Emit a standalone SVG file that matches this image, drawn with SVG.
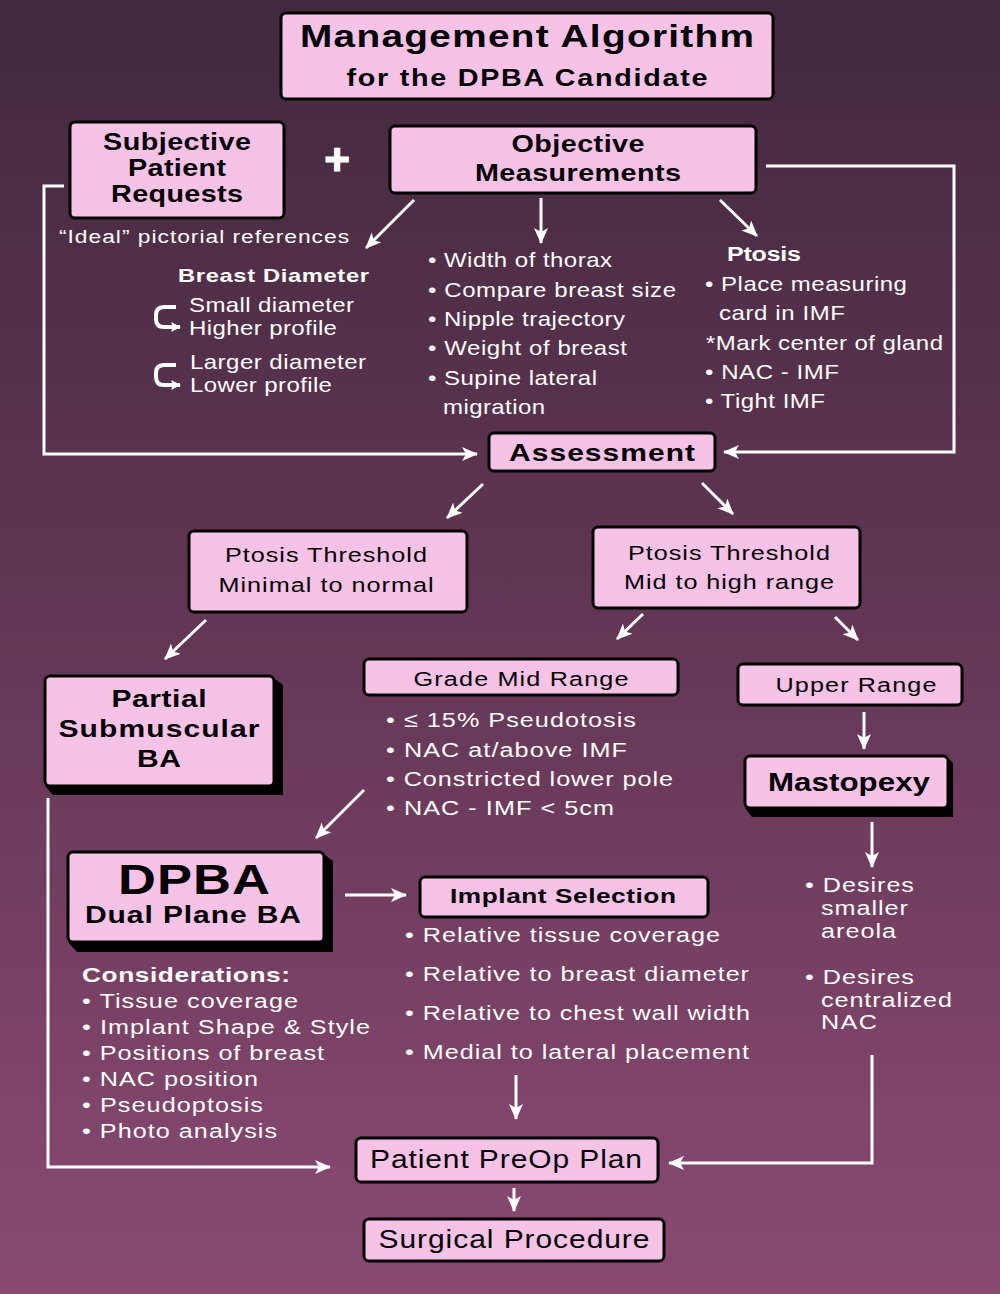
<svg xmlns="http://www.w3.org/2000/svg" width="1000" height="1294" viewBox="0 0 1000 1294">
<defs>
<linearGradient id="bg" x1="0" y1="0" x2="0" y2="1">
<stop offset="0" stop-color="#42293d"/>
<stop offset="0.5" stop-color="#643755"/>
<stop offset="1" stop-color="#8a4a72"/>
</linearGradient>
<marker id="ah" markerUnits="userSpaceOnUse" markerWidth="18" markerHeight="16" refX="15" refY="7" orient="auto">
<path d="M0,0 L16,7 L0,14 L4,7 z" fill="#fff"/>
</marker>
<marker id="ahs" markerUnits="userSpaceOnUse" markerWidth="12" markerHeight="12" refX="9" refY="5" orient="auto">
<path d="M0,0 L10,5 L0,10 L2,5 z" fill="#fff"/>
</marker>
<style>
.box{fill:#f6c3e6;stroke:#000;stroke-width:3}
.sh{fill:#000}
.b{font-family:"Liberation Sans",Arial,sans-serif;font-weight:bold;fill:#000}
.r{font-family:"Liberation Sans",Arial,sans-serif;fill:#000}
.wb{font-family:"Liberation Sans",Arial,sans-serif;font-weight:bold;fill:#fff}
.w{font-family:"Liberation Sans",Arial,sans-serif;fill:#fff}
.c{text-anchor:middle}
.ln{fill:none;stroke:#fff;stroke-width:3}
.ar{marker-end:url(#ah)}
</style>
</defs>
<rect x="0" y="0" width="1000" height="1294" fill="url(#bg)"/>

<g id="connectors">
<line class="ln ar" x1="414" y1="200" x2="366" y2="248"/>
<line class="ln ar" x1="541" y1="198" x2="541" y2="243"/>
<line class="ln ar" x1="720" y1="200" x2="757" y2="236"/>
<polyline class="ln ar" points="64,186 44,186 44,454 477,454"/>
<polyline class="ln ar" points="766,166 954,166 954,452 724,452"/>
<line class="ln ar" x1="483" y1="484" x2="447" y2="518"/>
<line class="ln ar" x1="702" y1="483" x2="733" y2="514"/>
<line class="ln ar" x1="206" y1="620" x2="165" y2="659"/>
<line class="ln ar" x1="643" y1="614" x2="617" y2="639"/>
<line class="ln ar" x1="835" y1="617" x2="858" y2="640"/>
<line class="ln ar" x1="864" y1="712" x2="864" y2="749"/>
<line class="ln ar" x1="872" y1="822" x2="872" y2="867"/>
<line class="ln ar" x1="364" y1="790" x2="316" y2="838"/>
<line class="ln ar" x1="345" y1="895" x2="406" y2="895"/>
<line class="ln ar" x1="516" y1="1075" x2="516" y2="1119"/>
<polyline class="ln ar" points="48,798 48,1167 330,1167"/>
<polyline class="ln ar" points="872,1055 872,1163 669,1163"/>
<line class="ln ar" x1="514" y1="1188" x2="514" y2="1211"/>
<path class="ln" style="stroke-width:4;marker-end:url(#ahs)" d="M176,307 H164 Q156,307 156,315 V319 Q156,327 164,327 H180"/>
<path class="ln" style="stroke-width:4;marker-end:url(#ahs)" d="M176,365 H164 Q156,365 156,373 V377 Q156,385 164,385 H180"/>
</g>

<g id="title">
<rect class="box" x="281" y="13" width="492" height="86" rx="5"/>
<text class="b c" transform="matrix(1.25 0 0 1 527 47)" font-size="31" textLength="363.2" lengthAdjust="spacing">Management Algorithm</text>
<text class="b c" transform="matrix(1.25 0 0 1 527 86)" font-size="23" textLength="288.8" lengthAdjust="spacing">for the DPBA Candidate</text>
</g>

<g id="subjective">
<rect class="box" x="70" y="122" width="214" height="96" rx="5"/>
<text class="b c" transform="matrix(1.25 0 0 1 177 150)" font-size="23" textLength="118.4" lengthAdjust="spacing">Subjective</text>
<text class="b c" transform="matrix(1.25 0 0 1 177 176)" font-size="23" textLength="78.4" lengthAdjust="spacing">Patient</text>
<text class="b c" transform="matrix(1.25 0 0 1 177 202)" font-size="23" textLength="105.6" lengthAdjust="spacing">Requests</text>
</g>

<g id="plus">
<text class="wb c" x="337" y="175" font-size="44" style="stroke:#fff;stroke-width:1.2">+</text>
</g>

<g id="objective">
<rect class="box" x="390" y="126" width="366" height="67" rx="5"/>
<text class="b c" transform="matrix(1.25 0 0 1 578 152)" font-size="23" textLength="106.4" lengthAdjust="spacing">Objective</text>
<text class="b c" transform="matrix(1.25 0 0 1 578 181)" font-size="23" textLength="164.8" lengthAdjust="spacing">Measurements</text>
</g>

<g id="subjective-notes">
<text class="w" transform="matrix(1.2 0 0 1 59 243)" font-size="19" textLength="241.7" lengthAdjust="spacing">“Ideal” pictorial references</text>
<text class="wb" transform="matrix(1.25 0 0 1 178 282)" font-size="19" textLength="152.8" lengthAdjust="spacing">Breast Diameter</text>
<text class="w" transform="matrix(1.2 0 0 1 189 312)" font-size="20" textLength="137.5" lengthAdjust="spacing">Small diameter</text>
<text class="w" transform="matrix(1.2 0 0 1 189 335)" font-size="20" textLength="123.3" lengthAdjust="spacing">Higher profile</text>
<text class="w" transform="matrix(1.2 0 0 1 190 369)" font-size="20" textLength="146.7" lengthAdjust="spacing">Larger diameter</text>
<text class="w" transform="matrix(1.2 0 0 1 190 392)" font-size="20" textLength="118.3" lengthAdjust="spacing">Lower profile</text>
</g>

<g id="objective-notes">
<text class="w" transform="matrix(1.2 0 0 1 428 267)" font-size="20" textLength="153.3" lengthAdjust="spacing">• Width of thorax</text>
<text class="w" transform="matrix(1.2 0 0 1 428 297)" font-size="20" textLength="206.7" lengthAdjust="spacing">• Compare breast size</text>
<text class="w" transform="matrix(1.2 0 0 1 428 326)" font-size="20" textLength="164.2" lengthAdjust="spacing">• Nipple trajectory</text>
<text class="w" transform="matrix(1.2 0 0 1 428 355)" font-size="20" textLength="165.8" lengthAdjust="spacing">• Weight of breast</text>
<text class="w" transform="matrix(1.2 0 0 1 428 385)" font-size="20" textLength="140.8" lengthAdjust="spacing">• Supine lateral</text>
<text class="w" transform="matrix(1.2 0 0 1 443 414)" font-size="20" textLength="85" lengthAdjust="spacing">migration</text>
</g>

<g id="ptosis-notes">
<text class="wb" transform="matrix(1.25 0 0 1 727 261)" font-size="20" textLength="59.2" lengthAdjust="spacing">Ptosis</text>
<text class="w" transform="matrix(1.2 0 0 1 705 291)" font-size="20" textLength="168.3" lengthAdjust="spacing">• Place measuring</text>
<text class="w" transform="matrix(1.2 0 0 1 719 320)" font-size="20" textLength="105" lengthAdjust="spacing">card in IMF</text>
<text class="w" transform="matrix(1.2 0 0 1 706 350)" font-size="20" textLength="197.5" lengthAdjust="spacing">*Mark center of gland</text>
<text class="w" transform="matrix(1.2 0 0 1 705 379)" font-size="20" textLength="111.7" lengthAdjust="spacing">• NAC - IMF</text>
<text class="w" transform="matrix(1.2 0 0 1 705 408)" font-size="20" textLength="100" lengthAdjust="spacing">• Tight IMF</text>
</g>

<g id="assessment">
<rect class="box" x="489" y="433" width="226" height="38" rx="5"/>
<text class="b c" transform="matrix(1.25 0 0 1 602 461)" font-size="24" textLength="148.8" lengthAdjust="spacing">Assessment</text>
</g>

<g id="ptosis-low">
<rect class="box" x="189" y="531" width="278" height="81" rx="5"/>
<text class="r c" transform="matrix(1.2 0 0 1 326 562)" font-size="21" textLength="168.3" lengthAdjust="spacing">Ptosis Threshold</text>
<text class="r c" transform="matrix(1.2 0 0 1 326 592)" font-size="21" textLength="179.2" lengthAdjust="spacing">Minimal to normal</text>
</g>

<g id="ptosis-high">
<rect class="box" x="593" y="527" width="267" height="81" rx="5"/>
<text class="r c" transform="matrix(1.2 0 0 1 729 560)" font-size="21" textLength="168.3" lengthAdjust="spacing">Ptosis Threshold</text>
<text class="r c" transform="matrix(1.2 0 0 1 729 589)" font-size="21" textLength="175" lengthAdjust="spacing">Mid to high range</text>
</g>

<g id="partial">
<polygon class="sh" points="271,676 283,685 283,795 53,795 45,786"/>
<rect class="box" x="45" y="676" width="229" height="110" rx="5"/>
<text class="b c" transform="matrix(1.25 0 0 1 159 707)" font-size="24" textLength="76" lengthAdjust="spacing">Partial</text>
<text class="b c" transform="matrix(1.25 0 0 1 159 737)" font-size="24" textLength="160.8" lengthAdjust="spacing">Submuscular</text>
<text class="b c" transform="matrix(1.25 0 0 1 159 767)" font-size="24" textLength="35.2" lengthAdjust="spacing">BA</text>
</g>

<g id="grade-mid">
<rect class="box" x="364" y="659" width="314" height="36" rx="5"/>
<text class="r c" transform="matrix(1.2 0 0 1 521 686)" font-size="21" textLength="179.2" lengthAdjust="spacing">Grade Mid Range</text>
</g>

<g id="grade-notes">
<text class="w" transform="matrix(1.2 0 0 1 386 727)" font-size="21" textLength="208.3" lengthAdjust="spacing">• ≤ 15% Pseudotosis</text>
<text class="w" transform="matrix(1.2 0 0 1 386 757)" font-size="21" textLength="200.8" lengthAdjust="spacing">• NAC at/above IMF</text>
<text class="w" transform="matrix(1.2 0 0 1 386 786)" font-size="21" textLength="239.2" lengthAdjust="spacing">• Constricted lower pole</text>
<text class="w" transform="matrix(1.2 0 0 1 386 815)" font-size="21" textLength="190" lengthAdjust="spacing">• NAC - IMF &lt; 5cm</text>
</g>

<g id="upper-range">
<rect class="box" x="738" y="664" width="224" height="41" rx="5"/>
<text class="r c" transform="matrix(1.2 0 0 1 856 692)" font-size="21" textLength="134.2" lengthAdjust="spacing">Upper Range</text>
</g>

<g id="mastopexy">
<polygon class="sh" points="946,756 953,763 953,817 752,817 745,808"/>
<rect class="box" x="745" y="756" width="203" height="52" rx="5"/>
<text class="b c" transform="matrix(1.25 0 0 1 849 791)" font-size="25" textLength="129.6" lengthAdjust="spacing">Mastopexy</text>
</g>

<g id="mastopexy-notes">
<text class="w" transform="matrix(1.2 0 0 1 805 892)" font-size="21" textLength="90.8" lengthAdjust="spacing">• Desires</text>
<text class="w" transform="matrix(1.2 0 0 1 821 915)" font-size="21" textLength="72.5" lengthAdjust="spacing">smaller</text>
<text class="w" transform="matrix(1.2 0 0 1 821 938)" font-size="21" textLength="62.5" lengthAdjust="spacing">areola</text>
<text class="w" transform="matrix(1.2 0 0 1 805 984)" font-size="21" textLength="90.8" lengthAdjust="spacing">• Desires</text>
<text class="w" transform="matrix(1.2 0 0 1 821 1007)" font-size="21" textLength="109.2" lengthAdjust="spacing">centralized</text>
<text class="w" transform="matrix(1.2 0 0 1 821 1029)" font-size="21" textLength="46.7" lengthAdjust="spacing">NAC</text>
</g>

<g id="dpba">
<polygon class="sh" points="321,852 333,861 333,952 77,952 68,942"/>
<rect class="box" x="68" y="852" width="256" height="90" rx="5"/>
<text class="b c" transform="matrix(1.25 0 0 1 194 894)" font-size="42" textLength="121.6" lengthAdjust="spacing">DPBA</text>
<text class="b c" transform="matrix(1.25 0 0 1 193 923)" font-size="24" textLength="172.8" lengthAdjust="spacing">Dual Plane BA</text>
</g>

<g id="considerations">
<text class="wb" transform="matrix(1.25 0 0 1 82 982)" font-size="21" textLength="166.4" lengthAdjust="spacing">Considerations:</text>
<text class="w" transform="matrix(1.2 0 0 1 82 1008)" font-size="21" textLength="180" lengthAdjust="spacing">• Tissue coverage</text>
<text class="w" transform="matrix(1.2 0 0 1 82 1034)" font-size="21" textLength="240" lengthAdjust="spacing">• Implant Shape &amp; Style</text>
<text class="w" transform="matrix(1.2 0 0 1 82 1060)" font-size="21" textLength="201.7" lengthAdjust="spacing">• Positions of breast</text>
<text class="w" transform="matrix(1.2 0 0 1 82 1086)" font-size="21" textLength="146.7" lengthAdjust="spacing">• NAC position</text>
<text class="w" transform="matrix(1.2 0 0 1 82 1112)" font-size="21" textLength="150.8" lengthAdjust="spacing">• Pseudoptosis</text>
<text class="w" transform="matrix(1.2 0 0 1 82 1138)" font-size="21" textLength="162.5" lengthAdjust="spacing">• Photo analysis</text>
</g>

<g id="implant-selection">
<rect class="box" x="420" y="877" width="288" height="40" rx="5"/>
<text class="b c" transform="matrix(1.25 0 0 1 563 903)" font-size="21" textLength="180.8" lengthAdjust="spacing">Implant Selection</text>
</g>

<g id="implant-notes">
<text class="w" transform="matrix(1.2 0 0 1 405 942)" font-size="21" textLength="262.5" lengthAdjust="spacing">• Relative tissue coverage</text>
<text class="w" transform="matrix(1.2 0 0 1 405 981)" font-size="21" textLength="286.7" lengthAdjust="spacing">• Relative to breast diameter</text>
<text class="w" transform="matrix(1.2 0 0 1 405 1020)" font-size="21" textLength="287.5" lengthAdjust="spacing">• Relative to chest wall width</text>
<text class="w" transform="matrix(1.2 0 0 1 405 1059)" font-size="21" textLength="286.7" lengthAdjust="spacing">• Medial to lateral placement</text>
</g>

<g id="preop">
<rect class="box" x="356" y="1138" width="302" height="44" rx="5"/>
<text class="r c" transform="matrix(1.2 0 0 1 506 1168)" font-size="25" textLength="226.7" lengthAdjust="spacing">Patient PreOp Plan</text>
</g>

<g id="surgical">
<rect class="box" x="364" y="1219" width="300" height="42" rx="5"/>
<text class="r c" transform="matrix(1.2 0 0 1 514 1248)" font-size="25" textLength="225.8" lengthAdjust="spacing">Surgical Procedure</text>
</g>
</svg>
